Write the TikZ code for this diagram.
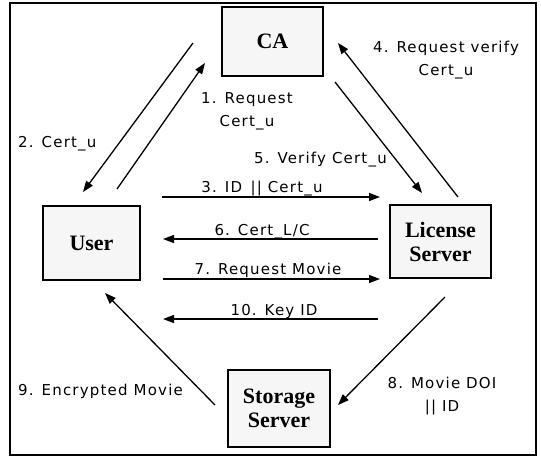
\documentclass[tikz,border=0pt]{standalone}
\usepackage{fontspec}
\setmainfont{Liberation Serif}
\newfontfamily\lblfont[LetterSpace=8]{DejaVu Sans}
\usetikzlibrary{arrows.meta}
\begin{document}
\begin{tikzpicture}[x=1pt,y=-1pt,
  box/.style={draw,line width=1.6pt,fill=gray!7,font=\fontsize{22}{24}\selectfont\bfseries,align=center,inner sep=0pt},
  lbl/.style={font=\lblfont\fontsize{15}{23}\selectfont,align=center,anchor=base,inner sep=0pt},
  arr/.style={line width=1.3pt,-{Triangle[length=11pt,width=8pt]}}]
\useasboundingbox (0,0) rectangle (541,458);
\draw[line width=2pt] (10,3) rectangle (536,455);
% boxes
\node[box,minimum width=101pt,minimum height=69pt] (ca) at (272.5,41.5) {CA};
\node[box,minimum width=97pt,minimum height=74pt] (user) at (91.5,243) {User};
\node[box,minimum width=101pt,minimum height=73pt] (lic) at (440.5,241.5) {License\\Server};
\node[box,minimum width=102pt,minimum height=77pt] (sto) at (279,408.5) {Storage\\Server};
% connector end points
\coordinate (a1s) at (117,189);  \coordinate (a1e) at (205,63);
\coordinate (a2s) at (193,43);   \coordinate (a2e) at (83,192);
\coordinate (a3s) at (162,197);  \coordinate (a3e) at (380,197);
\coordinate (a4s) at (458,197);  \coordinate (a4e) at (338,43);
\coordinate (a5s) at (335,82);   \coordinate (a5e) at (422,193);
\coordinate (a6s) at (378,239);  \coordinate (a6e) at (163,239);
\coordinate (a7s) at (163,279);  \coordinate (a7e) at (380,279);
\coordinate (a8s) at (445,297);  \coordinate (a8e) at (338,405);
\coordinate (a9s) at (215,405);  \coordinate (a9e) at (105,293);
\coordinate (a10s) at (378,319); \coordinate (a10e) at (163,319);
\draw[arr] (a1s) -- (a1e);
\draw[arr] (a2s) -- (a2e);
\draw[arr] (a3s) -- (a3e);
\draw[arr] (a4s) -- (a4e);
\draw[arr] (a5s) -- (a5e);
\draw[arr] (a6s) -- (a6e);
\draw[arr] (a7s) -- (a7e);
\draw[arr] (a8s) -- (a8e);
\draw[arr] (a9s) -- (a9e);
\draw[arr] (a10s) -- (a10e);
% labels
\node[lbl] (l1) at (247,126) {1. Request\\Cert\_u};
\node[lbl,anchor=base west] (l2) at (18,147) {2. Cert\_u};
\node[lbl] (l3) at (262,192) {3. ID \,|| Cert\_u};
\node[lbl] (l4) at (446,75) {4. Request verify\\Cert\_u};
\node[lbl,anchor=base east] (l5) at (387,163) {5. Verify Cert\_u};
\node[lbl] (l6) at (262,235) {6. Cert\_L/C};
\node[lbl] (l7) at (268,274) {7. Request Movie};
\node[lbl] (l8) at (442,411) {8. Movie DOI\\|| ID};
\node[lbl,anchor=base west] (l9) at (18,395) {9. Encrypted Movie};
\node[lbl] (l10) at (274,315) {10. Key ID};
\end{tikzpicture}
\end{document}
